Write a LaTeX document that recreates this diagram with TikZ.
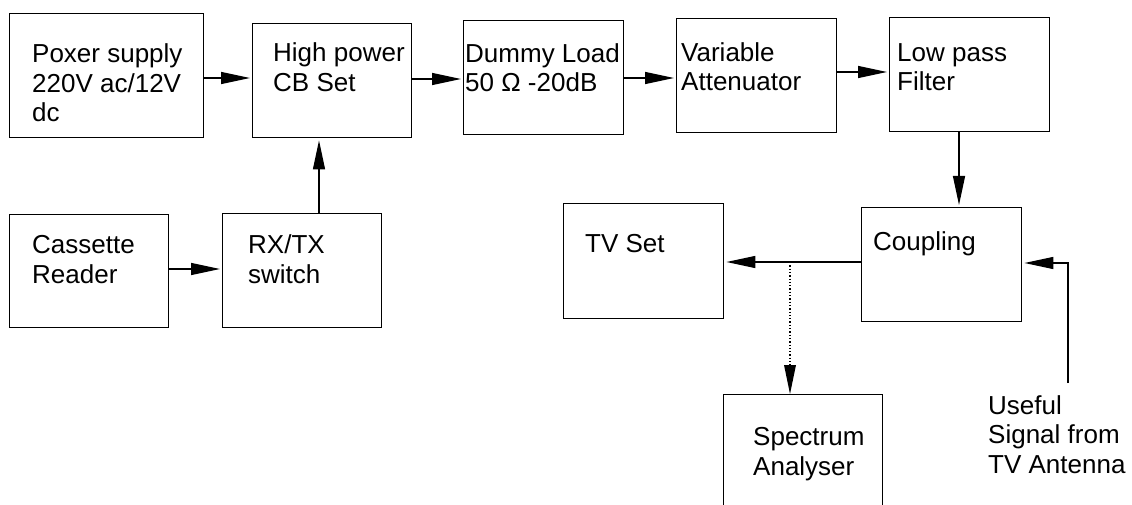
\documentclass[tikz,border=0pt]{standalone}
\usepackage{fontspec}
\setmainfont{Liberation Sans}
\usetikzlibrary{arrows.meta}
\begin{document}
\begin{tikzpicture}[x=1pt,y=-1pt,
  box/.style={draw,line width=1.4pt,rectangle,inner sep=0pt,anchor=north west},
  lbl/.style={anchor=base west,inner sep=0pt,align=left,font=\fontsize{26}{29.5}\selectfont},
  arr/.style={line width=1.3pt,-{Triangle[length=29pt,width=12pt]}, shorten >=2pt},
  darr/.style={line width=1.3pt,dotted,-{Triangle[length=29pt,width=12pt,line width=0pt,sep=0pt]}}]
\useasboundingbox (0,0) rectangle (1132,505);
\clip (0,0) rectangle (1132,505);
% boxes
\node[box,minimum width=194pt,minimum height=124pt] (ps) at (9,13) {};
\node[box,minimum width=159pt,minimum height=114pt] (cb) at (252,23) {};
\node[box,minimum width=160pt,minimum height=114pt] (dl) at (463,20) {};
\node[box,minimum width=160pt,minimum height=114pt] (va) at (676,18) {};
\node[box,minimum width=160pt,minimum height=114pt] (lp) at (889,17) {};
\node[box,minimum width=160pt,minimum height=114pt] (cp) at (861,207) {};
\node[box,minimum width=160pt,minimum height=115pt] (tv) at (563,203) {};
\node[box,minimum width=159pt,minimum height=130pt] (sa) at (723,394) {};
\node[box,minimum width=159pt,minimum height=113pt] (cr) at (9,214) {};
\node[box,minimum width=159pt,minimum height=114pt] (rx) at (222,213) {};
% labels (anchored at the baseline of the last line)
\node[lbl] (tps) at (32,122) {Poxer supply\\220V ac/12V\\dc};
\node[lbl] (tcb) at (273,91.5) {High power\\CB Set};
\node[lbl] (tdl) at (465,92) {Dummy Load\\50 Ω -20dB};
\node[lbl] (tva) at (681,91) {Variable\\Attenuator};
\node[lbl] (tlp) at (897,91) {Low pass\\Filter};
\node[lbl] (tcp) at (873,251) {Coupling};
\node[lbl] (ttv) at (585,252) {TV Set};
\node[lbl] (tsa) at (753,475) {Spectrum\\Analyser};
\node[lbl] (tan) at (988,473) {Useful\\Signal from\\TV Antenna};
\node[lbl] (tcr) at (32,283) {Cassette\\Reader};
\node[lbl] (trx) at (248,283) {RX/TX\\switch};
% connectors
\draw[arr] (ps.east |- 0,78) -- (cb.west |- 0,78);
\draw[arr] (cb.east |- 0,79) -- (dl.west |- 0,79);
\draw[arr] (dl.east |- 0,78) -- (va.west |- 0,78);
\draw[arr] (va.east |- 0,72) -- (lp.west |- 0,72);
\draw[arr] (lp.south -| 959,0) -- (cp.north -| 959,0);
\draw[arr] (cr.east |- 0,269) -- (rx.west |- 0,269);
\draw[arr] (rx.north -| 319,0) -- (cb.south -| 319,0);
\draw[arr] (cp.west |- 0,262) -- (tv.east |- 0,262);
\coordinate (tap) at (790,262);
\draw[darr] (tap) -- (sa.north -| tap);
\coordinate (ant) at (1068,383);
\draw[arr] (ant) -- (1068,263) -- (cp.east |- 0,263);
\end{tikzpicture}
\end{document}
